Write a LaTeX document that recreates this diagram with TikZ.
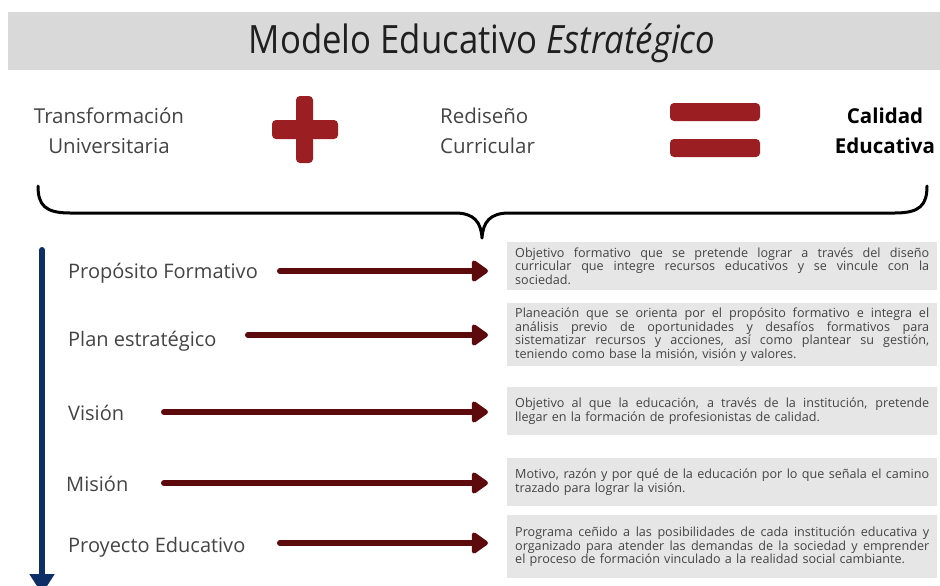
\documentclass[tikz,border=0pt]{standalone}
\usepackage{fontspec}
\setmainfont{Open Sans}
\newfontfamily\titlefont[FakeStretch=0.89]{Open Sans}
\usetikzlibrary{arrows.meta}
\definecolor{band}{HTML}{D9D9D9}
\definecolor{boxgray}{HTML}{E6E6E6}
\definecolor{plusred}{HTML}{9B1E22}
\definecolor{arrowred}{HTML}{5C0A0C}
\definecolor{navy}{HTML}{0E2F66}
\definecolor{labeltxt}{HTML}{444444}
\definecolor{desctxt}{HTML}{444444}
\newcommand\jline[1]{\makebox[414pt][s]{\spaceskip=0pt\xspaceskip=0pt #1}}
\tikzset{
  toptext/.style={text=labeltxt, font=\fontsize{20.5}{30}\selectfont, inner sep=0pt},
  sidelabel/.style={text=labeltxt, font=\fontsize{20}{24}\selectfont, inner sep=0pt, anchor=base west},
  descbox/.style={fill=boxgray, text=desctxt, text width=414pt, inner xsep=8pt, inner ysep=4pt,
    align=left, anchor=north west, font=\fontsize{12.6}{13.4}\selectfont},
  redarrow/.style={draw=arrowred, line width=6pt, line cap=round,
    -{Triangle[length=18pt,width=24pt,round]}, shorten >=19pt},
  signbar/.style={fill=plusred, rounded corners=4pt},
}
\begin{document}
\begin{tikzpicture}[x=1pt,y=-1pt]
\useasboundingbox (0,0) rectangle (940,586);
\fill[white] (0,0) rectangle (940,586);
% header band
\fill[band] (8,12) rectangle (940,70);
\node[inner sep=0pt, anchor=base, text=black!88, font=\titlefont\fontsize{39}{44}\selectfont] (title) at (482,54)
  {Modelo Educativo \textit{Estratégico}};
% top row
\node[toptext, align=center] (tu) at (109,131) {Transformación\\Universitaria};
\fill[signbar] (296,96) rectangle (313,163);
\fill[signbar] (272,120) rectangle (338,139);
\node[toptext, align=left, anchor=west] (rc) at (440,131) {Rediseño\\Curricular};
\fill[signbar] (670,103) rectangle (760,121);
\fill[signbar] (670,139) rectangle (760,157);
\node[toptext, align=center, text=black, font=\bfseries\fontsize{20.5}{30}\selectfont] (ce) at (885,131) {Calidad\\Educativa};
% brace
\draw[line width=3pt, line cap=round, line join=round] (38,186) .. controls (38,205) and (45,213) .. (70,213)
  -- (455,213) .. controls (474,213) and (481,222) .. (482,238)
  .. controls (483,222) and (490,213) .. (509,213)
  -- (895,213) .. controls (920,213) and (927,205) .. (927,186);
% blue arrow
\coordinate (vtop) at (42,250);
\coordinate (vbot) at (42,594);
\draw[navy, line width=6pt, line cap=round, -{Triangle[length=20pt,width=24pt]}] (vtop) -- (vbot);
% labels
\node[sidelabel] (l1) at (68,278) {Propósito Formativo};
\node[sidelabel] (l2) at (68,346) {Plan estratégico};
\node[sidelabel] (l3) at (68,420) {Visión};
\node[sidelabel] (l4) at (66,491) {Misión};
\node[sidelabel] (l5) at (68,552) {Proyecto Educativo};
% description boxes
\node[descbox, minimum height=48pt] (d1) at (507,242) {\jline{Objetivo formativo que se pretende lograr a través del diseño}\\
\jline{curricular que integre recursos educativos y se vincule con la}\\
sociedad.};
\node[descbox, minimum height=63pt] (d2) at (507,303) {\jline{Planeación que se orienta por el propósito formativo e integra el}\\
\jline{análisis previo de oportunidades y desafíos formativos para}\\
\jline{sistematizar recursos y acciones, así como plantear su gestión,}\\
teniendo como base la misión, visión y valores.};
\node[descbox, minimum height=48pt] (d3) at (507,387) {\jline{Objetivo al que la educación, a través de la institución, pretende}\\
llegar en la formación de profesionistas de calidad.};
\node[descbox, minimum height=48pt] (d4) at (507,458) {\jline{Motivo, razón y por qué de la educación por lo que señala el camino}\\
trazado para lograr la visión.};
\node[descbox, minimum height=63pt] (d5) at (507,515) {\jline{Programa ceñido a las posibilidades de cada institución educativa y}\\
\jline{organizado para atender las demandas de la sociedad y emprender}\\
el proceso de formación vinculado a la realidad social cambiante.};
% arrows
\coordinate (s1) at (280,271);
\coordinate (s2) at (248,335);
\coordinate (s3) at (164,412);
\coordinate (s4) at (164,483);
\coordinate (s5) at (280,543);
\draw[redarrow] (s1) -- (s1 -| d1.west);
\draw[redarrow] (s2) -- (s2 -| d2.west);
\draw[redarrow] (s3) -- (s3 -| d3.west);
\draw[redarrow] (s4) -- (s4 -| d4.west);
\draw[redarrow] (s5) -- (s5 -| d5.west);
\end{tikzpicture}
\end{document}
